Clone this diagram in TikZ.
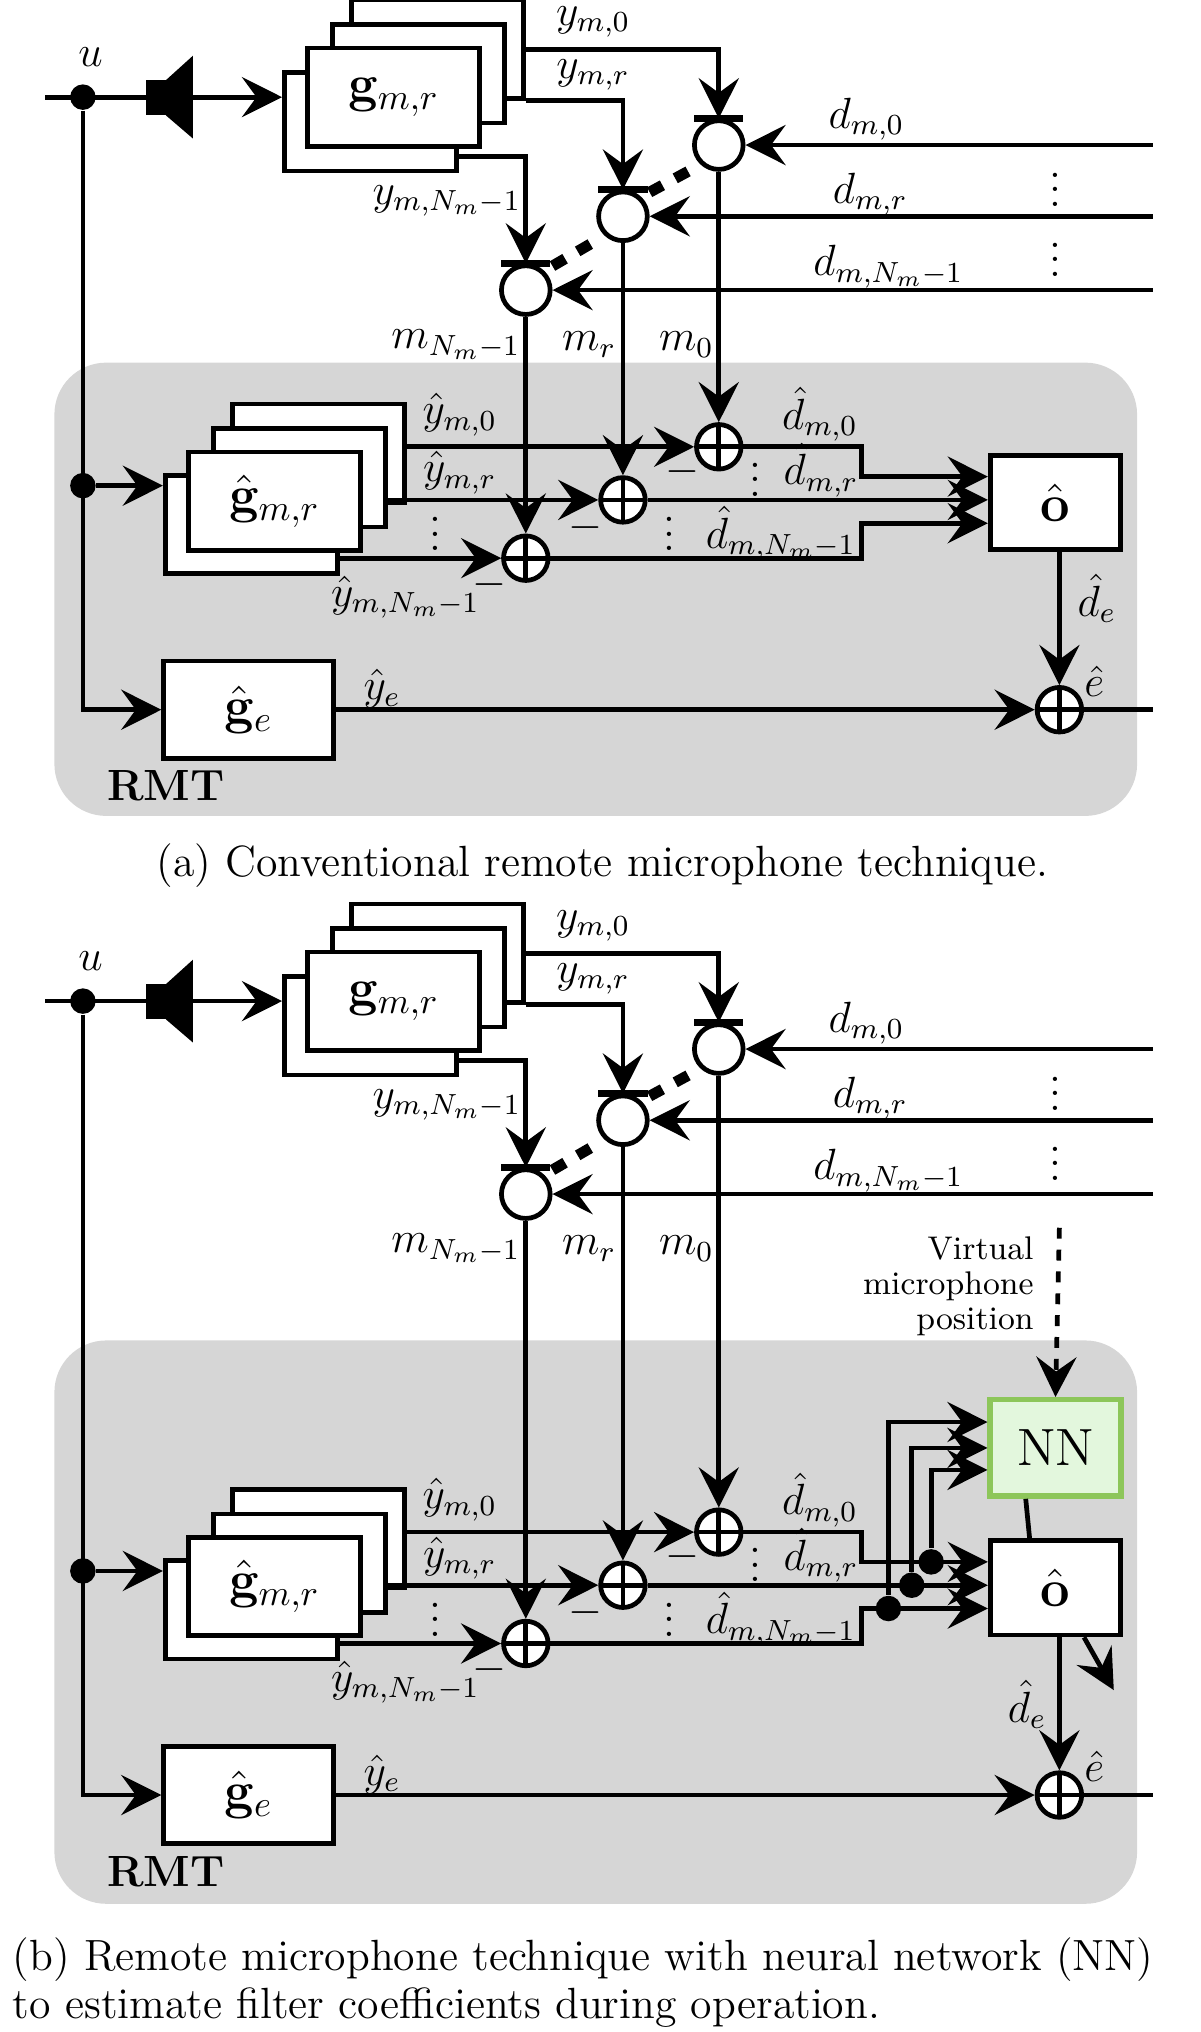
\documentclass[tikz,border=0pt]{standalone}
\usetikzlibrary{arrows.meta,calc,positioning}
\definecolor{rmtgray}{HTML}{D6D6D6}
\definecolor{nnfill}{HTML}{E3F7DD}
\definecolor{nnedge}{HTML}{8DC65A}
\tikzset{
  sig/.style={line width=1.3pt},
  arr/.style={sig,-{Stealth[length=11pt,width=11pt,inset=4pt]}},
  blk/.style={draw,fill=white,line width=1.3pt,minimum width=1.66cm,minimum height=0.95cm,inner sep=0pt,font=\Large},
  dot/.style={circle,fill,inner sep=0pt,minimum size=7pt},
  mic/.style={draw,fill=white,circle,line width=1.3pt,minimum size=0.47cm,inner sep=0pt},
  sumnode/.style={draw,fill=white,circle,line width=1.3pt,minimum size=0.43cm,inner sep=0pt,
    path picture={\draw[line width=1.3pt] (path picture bounding box.north) -- (path picture bounding box.south)
      (path picture bounding box.west) -- (path picture bounding box.east);}},
  lbl/.style={font=\large,inner sep=1pt}
}
% one RMT panel: #1 shift of the microphone part, #2 shift of the estimation part
\newcommand{\rmtpanel}[2]{%
  \begin{scope}[shift={(0,#1)}]
    \draw[sig] (35,75) -- (113,75);
    \node[dot] (u) at (64,75) {};
    \node[lbl] at (70,44) {$u$};
    % loudspeaker
    \fill (113,62) rectangle (128,89);
    \fill (128,62) -- (149,43) -- (149,107) -- (128,89) -- cycle;
    \coordinate (spk) at (149,75);
    % transfer paths
    \node[blk] (gA) at (338,38) {};
    \node[blk] (gB) at (323,57) {};
    \node[blk] (gD) at (286,94) {};
    \node[blk] (gC) at (304,75) {$\mathbf{g}_{m,r}$};
    \draw[arr] (spk) -- (spk -| gD.west);
    % microphones
    \node[mic] (m0) at (555,112) {};
    \node[mic] (mr) at (481,167) {};
    \node[mic] (mN) at (406,224) {};
    \foreach \m in {m0,mr,mN}
      \draw[line width=2pt] ($(\m.north)+(-19,0)$) -- ($(\m.north)+(19,0)$);
    \draw[arr] (gA.east) -| (m0.north);
    \draw[arr] (gA.south east) -| (mr.north);
    \draw[arr] ($(gD.south east)+(0,-13)$) -| (mN.north);
    \node[lbl] at (458,17) {$y_{m,0}$};
    \node[lbl] at (458,58) {$y_{m,r}$};
    \node[lbl] at (345,155) {$y_{m,N_m-1}$};
    \draw[line width=3pt,dash pattern=on 4pt off 4pt] ($(mr.north east)+(6,-4)$) -- ($(m0.south west)+(-4,3)$);
    \draw[line width=3pt,dash pattern=on 4pt off 4pt] ($(mN.north east)+(6,-4)$) -- ($(mr.south west)+(-4,3)$);
    % disturbances
    \coordinate (d0) at (890,112);
    \coordinate (dr) at (890,167);
    \coordinate (dN) at (890,224);
    \draw[arr] (d0) -- (m0.east);
    \draw[arr] (dr) -- (mr.east);
    \draw[arr] (dN) -- (mN.east);
    \node[lbl] at (669,92) {$d_{m,0}$};
    \node[lbl] at (672,150) {$d_{m,r}$};
    \node[lbl] at (686,206) {$d_{m,N_m-1}$};
    \node[lbl] at (815,138) {$\vdots$};
    \node[lbl] at (815,192) {$\vdots$};
    \node[lbl] at (352,266) {$m_{N_m-1}$};
    \node[lbl] at (455,266) {$m_r$};
    \node[lbl] at (530,266) {$m_0$};
  \end{scope}
  \begin{scope}[shift={(0,#2)}]
    \node[dot] (ub) at (64,375) {};
    \node[blk] (hA) at (246,350) {};
    \node[blk] (hB) at (231,369) {};
    \node[blk] (hD) at (194,405) {};
    \node[blk] (hC) at (212,387) {$\hat{\mathbf{g}}_{m,r}$};
    \draw[arr] (ub) -- (ub -| hD.west);
    \node[sumnode] (s0) at (555,345) {};
    \node[sumnode] (sr) at (481,386) {};
    \node[sumnode] (sN) at (406,431) {};
    \draw[arr] (s0 -| hA.east) -- (s0.west);
    \draw[arr] (sr -| hB.east) -- (sr.west);
    \draw[arr] (sN -| hD.east) -- (sN.west);
    \node[lbl] at (355,320) {$\hat{y}_{m,0}$};
    \node[lbl] at (355,365) {$\hat{y}_{m,r}$};
    \node[lbl] at (313,461) {$\hat{y}_{m,N_m-1}$};
    \node[lbl] at (527,364) {$-$};
    \node[lbl] at (452,407) {$-$};
    \node[lbl] at (378,451) {$-$};
    \node[lbl] at (336,404) {$\vdots$};
    \node[lbl] at (517,404) {$\vdots$};
    \node[lbl] at (583,362) {$\vdots$};
    % combination filter
    \node[blk,minimum width=1.26cm,minimum height=0.91cm] (o) at (815,388) {$\hat{\mathbf{o}}$};
    \coordinate (o0) at ($(o.west)+(0,-20)$);
    \coordinate (or) at ($(o.west)+(0,-2)$);
    \coordinate (oN) at ($(o.west)+(0,16)$);
    \draw[arr] (s0.east) -- (665,345) |- (o0);
    \draw[arr] (sr.east) -- (or);
    \draw[arr] (sN.east) -- (665,431) |- (oN);
    \node[lbl] at (633,320) {$\hat{d}_{m,0}$};
    \node[lbl] at (634,363) {$\hat{d}_{m,r}$};
    \node[lbl] at (603,412) {$\hat{d}_{m,N_m-1}$};
    % virtual error
    \node[blk,minimum width=1.64cm,minimum height=0.94cm] (ge) at (192,548) {$\hat{\mathbf{g}}_{e}$};
    \node[sumnode] (se) at (818,548) {};
    \draw[arr] (u) |- (ge.west);
    \draw[arr] (ge.east) -- (se.west);
    \node[lbl] at (295,532) {$\hat{y}_e$};
    \draw[arr] (se |- o.south) -- (se.north);
    \draw[sig] (se.east) -- (890,548);
    \node[lbl] at (845,526) {$\hat{e}$};
    \node[font=\large\bfseries] at (128,607) {RMT};
  \end{scope}
  \draw[arr] (m0.south) -- (s0.north);
  \draw[arr] (mr.south) -- (sr.north);
  \draw[arr] (mN.south) -- (sN.north);
}
\begin{document}
\begin{tikzpicture}[x=0.0125cm,y=-0.0125cm]
  \useasboundingbox (0,0) rectangle (927,1569);
  \fill[rmtgray,rounded corners=0.5cm] (42,280) rectangle (878,630);
  \fill[rmtgray,rounded corners=0.5cm] (42,1035) rectangle (878,1470);

  % (a)
  \rmtpanel{0}{0}
  \node[lbl] at (847,462) {$\hat{d}_e$};
  \node[font=\large] at (465,668) {(a) Conventional remote microphone technique.};

  % (b)
  \rmtpanel{698}{838}
  \node[lbl] at (793,1316) {$\hat{d}_e$};
  \node[draw=nnedge,fill=nnfill,line width=1.5pt,minimum width=1.26cm,minimum height=0.93cm,font=\Large] (nn) at (815,1118) {NN};
  \node[anchor=east,align=right,font=\fontsize{9}{9.6}\selectfont] (vmp) at (808,993) {Virtual\\microphone\\position};
  \coordinate (vtop) at (818,948);
  \draw[arr,dashed] (vtop) -- (nn.north);
  \node[dot] (t0) at (719,1206) {};
  \node[dot] (tr) at (704,1224) {};
  \node[dot] (tN) at (686,1242) {};
  \draw[arr] (tN) -- (686,1098) -- ($(nn.west)+(0,-20)$);
  \draw[arr] (tr) -- (704,1118) -- (nn.west);
  \draw[arr] (t0) -- (719,1135) -- ($(nn.west)+(0,17)$);
  \draw[sig] ($(nn.south)+(-23,0)$) -- ($(o.north)+(-20,0)$);
  \coordinate (oout) at (860,1305);
  \draw[arr] ($(o.south)+(22,0)$) -- (oout);
  \node[anchor=west,font=\large] at (0,1513) {(b) Remote microphone technique with neural network (NN)};
  \node[anchor=west,font=\large] at (0,1550) {to estimate filter coefficients during operation.};
\end{tikzpicture}
\end{document}
